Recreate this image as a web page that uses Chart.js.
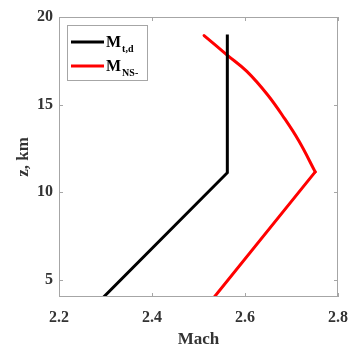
<!DOCTYPE html>
<html>
<head>
<meta charset="utf-8">
<script src="https://cdn.jsdelivr.net/npm/chart.js@4/dist/chart.umd.min.js"></script>
<style>
  html, body { margin: 0; padding: 0; background: #fff; }
  #wrap { width: 350px; height: 350px; }
</style>
</head>
<body>
<div id="wrap"><canvas id="machChart" width="350" height="350"></canvas></div>
<script>
// values
const tdMach = [2.296, 2.562, 2.562];
const tdZ = [4, 11.1, 19];
// M_NS- : straight below the peak, curved above it
const nsLowMach = [2.534, 2.751];
const nsLowZ = [4, 11.15];
const nsHighMach = [2.751, 2.716, 2.684, 2.648, 2.604, 2.561, 2.512];
const nsHighZ = [11.15, 12.91, 14.24, 15.57, 16.89, 17.84, 18.94];
const xTicks = [2.2, 2.4, 2.6, 2.8];
const yTicks = [5, 10, 15, 20];
const legendNames = [['M', 't,d'], ['M', 'NS-']];
const legendColors = ['#000000', '#ff0000'];

const serif = '"Liberation Serif", "DejaVu Serif", serif';
const boxColor = '#a6a6a6';

// inward ticks, box around the axes and the legend with subscripts
const framePlugin = {
  id: 'frame',
  afterDraw(chart) {
    const ctx = chart.ctx;
    const a = chart.chartArea;
    const xs = chart.scales.x, ys = chart.scales.y;
    ctx.save();
    ctx.strokeStyle = boxColor;
    ctx.lineWidth = 1;
    ctx.strokeRect(a.left + 0.5, a.top + 0.5, a.right - a.left - 1, a.bottom - a.top - 1);
    ctx.beginPath();
    xTicks.forEach(v => {
      const px = Math.round(xs.getPixelForValue(v)) + 0.5;
      ctx.moveTo(px, a.bottom); ctx.lineTo(px, a.bottom - 4);
      ctx.moveTo(px, a.top); ctx.lineTo(px, a.top + 4);
    });
    yTicks.forEach(v => {
      const py = Math.round(ys.getPixelForValue(v)) + 0.5;
      ctx.moveTo(a.left, py); ctx.lineTo(a.left + 4, py);
      ctx.moveTo(a.right, py); ctx.lineTo(a.right - 4, py);
    });
    ctx.stroke();

    // legend
    const bx = a.left + 8, by = a.top + 8, bw = 80, bh = 55;
    ctx.fillStyle = '#fff';
    ctx.fillRect(bx, by, bw, bh);
    ctx.strokeStyle = boxColor;
    ctx.strokeRect(bx + 0.5, by + 0.5, bw, bh);
    legendNames.forEach((name, i) => {
      const ly = by + 17 + i * 24;
      ctx.strokeStyle = legendColors[i];
      ctx.lineWidth = 3;
      ctx.beginPath();
      ctx.moveTo(bx + 4, ly); ctx.lineTo(bx + 37, ly);
      ctx.stroke();
      ctx.fillStyle = '#000';
      ctx.textBaseline = 'alphabetic';
      ctx.font = 'bold 16px ' + serif;
      ctx.fillText(name[0], bx + 39, ly + 5);
      const mw = ctx.measureText(name[0]).width;
      ctx.font = 'bold 10px ' + serif;
      ctx.fillText(name[1], bx + 40 + mw, ly + 10);
    });
    ctx.restore();
  }
};

const toPoints = (xs, zs) => xs.map((m, i) => ({ x: m, y: zs[i] }));

new Chart(document.getElementById('machChart'), {
  type: 'scatter',
  data: {
    datasets: [
      {
        label: 'Mt,d',
        data: toPoints(tdMach, tdZ),
        showLine: true,
        borderColor: legendColors[0],
        borderWidth: 3,
        pointRadius: 0,
        tension: 0
      },
      {
        label: 'MNS- low',
        data: toPoints(nsLowMach, nsLowZ),
        showLine: true,
        borderColor: legendColors[1],
        borderWidth: 3,
        borderCapStyle: 'round',
        pointRadius: 0,
        tension: 0
      },
      {
        label: 'MNS- high',
        data: toPoints(nsHighMach, nsHighZ),
        showLine: true,
        borderColor: legendColors[1],
        borderWidth: 3,
        borderCapStyle: 'round',
        pointRadius: 0,
        tension: 0.4
      }
    ]
  },
  options: {
    responsive: false,
    animation: false,
    layout: { padding: { left: 0, right: 12, top: 17, bottom: 0 } },
    plugins: { legend: { display: false }, tooltip: { enabled: false } },
    scales: {
      x: {
        type: 'linear',
        min: 2.2,
        max: 2.8,
        afterBuildTicks: s => { s.ticks = xTicks.map(v => ({ value: v })); },
        afterFit: s => { s.height = 53; s.paddingLeft = 0; s.paddingRight = 0; },
        grid: { display: false, drawTicks: false },
        border: { display: false },
        ticks: {
          padding: 11,
          maxRotation: 0,
          color: '#333',
          font: { family: serif, size: 16, weight: 'bold' },
          callback: v => v.toFixed(1)
        },
        title: {
          display: true,
          text: 'Mach',
          color: '#333',
          padding: { top: 0, bottom: 0 },
          font: { family: serif, size: 17, weight: 'bold' }
        }
      },
      y: {
        type: 'linear',
        min: 4,
        max: 20,
        afterBuildTicks: s => { s.ticks = yTicks.map(v => ({ value: v })); },
        afterFit: s => { s.width = 59; s.paddingTop = 0; s.paddingBottom = 0; },
        grid: { display: false, drawTicks: false },
        border: { display: false },
        ticks: {
          padding: 6,
          color: '#333',
          font: { family: serif, size: 16, weight: 'bold' }
        },
        title: {
          display: true,
          text: 'z, km',
          color: '#333',
          padding: { top: 13, bottom: 0 },
          font: { family: serif, size: 17, weight: 'bold' }
        }
      }
    }
  },
  plugins: [framePlugin]
});
</script>
</body>
</html>
